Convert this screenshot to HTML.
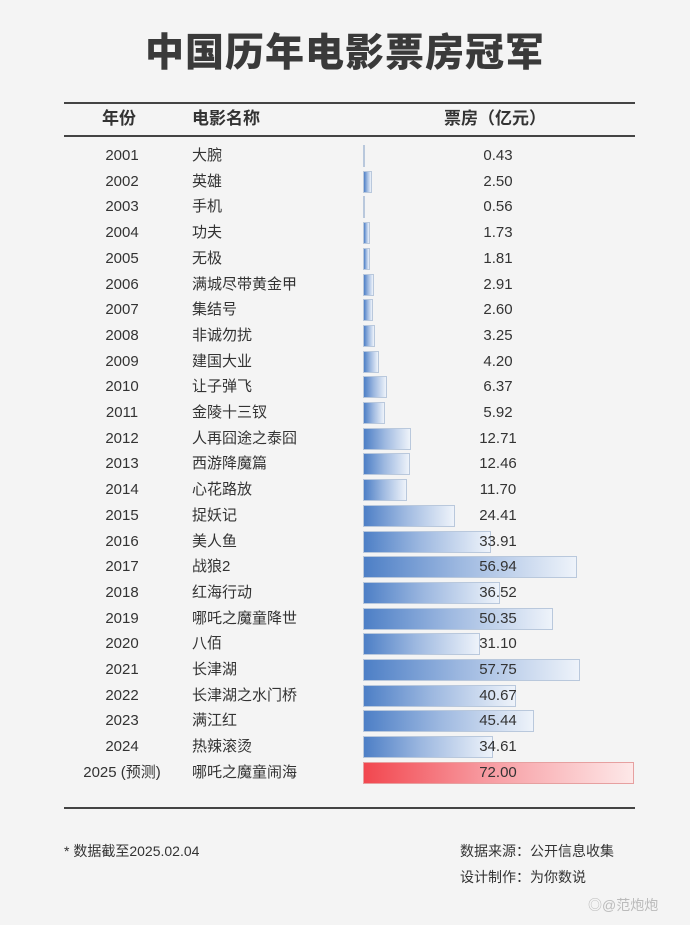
<!DOCTYPE html>
<html><head><meta charset="utf-8"><style>
body{margin:0;width:690px;height:925px;background:#f4f4f4;position:relative;overflow:hidden;font-family:"Liberation Sans","Noto Sans CJK SC",sans-serif;color:#333}
.a{position:absolute;white-space:nowrap;line-height:18px;height:18px}
.t{left:0;width:690px;text-align:center;top:34px;font-size:39px;line-height:40px;height:40px;font-weight:900;color:#3a3a3a;letter-spacing:1px}
.line{position:absolute;left:64px;width:571px;height:1.5px;background:#444}
.yr{left:72px;width:100px;text-align:center;font-size:15px}
.nm{left:192px;font-size:15px}
.val{left:440px;width:116px;text-align:center;font-size:15px}
.bar{position:absolute;left:363px;height:22px;box-sizing:border-box;border:1px solid #b9c8dc;background:linear-gradient(to right,#4d7fc6,#9db8e0 45%,#eef3fa)}
.red{border-color:#e6a0a0;background:linear-gradient(to right,#f2474f,#f79aa0 45%,#fde8e8)}
.h{font-size:17px;font-weight:bold;top:110px}
</style></head><body>
<div class="a t">中国历年电影票房冠军</div>
<div class="line" style="top:102px"></div>
<div class="a h" style="left:102px">年份</div>
<div class="a h" style="left:192px">电影名称</div>
<div class="a h" style="left:444px">票房（亿元）</div>
<div class="line" style="top:135px"></div>
<div class="line" style="top:807px"></div>
<div id="rows"></div>
<div class="a" style="left:64px;top:842px;font-size:14px">* 数据截至2025.02.04</div>
<div class="a" style="left:460px;top:842px;font-size:14px">数据来源：公开信息收集</div>
<div class="a" style="left:460px;top:868px;font-size:14px">设计制作：为你数说</div>
<div class="a" style="left:588px;top:896px;font-size:14px;color:#bbb">◎@范炮炮</div>
<script>
var d=[["2001","大腕",0.43],["2002","英雄",2.50],["2003","手机",0.56],["2004","功夫",1.73],["2005","无极",1.81],["2006","满城尽带黄金甲",2.91],["2007","集结号",2.60],["2008","非诚勿扰",3.25],["2009","建国大业",4.20],["2010","让子弹飞",6.37],["2011","金陵十三钗",5.92],["2012","人再囧途之泰囧",12.71],["2013","西游降魔篇",12.46],["2014","心花路放",11.70],["2015","捉妖记",24.41],["2016","美人鱼",33.91],["2017","战狼2",56.94],["2018","红海行动",36.52],["2019","哪吒之魔童降世",50.35],["2020","八佰",31.10],["2021","长津湖",57.75],["2022","长津湖之水门桥",40.67],["2023","满江红",45.44],["2024","热辣滚烫",34.61],["2025 (预测)","哪吒之魔童闹海",72.00]];
var h="";
d.forEach(function(r,i){var c=156+i*25.7;var w=Math.max(1.5,r[2]*271/72);
h+='<div class="bar'+(i==24?' red':'')+'" style="top:'+(c-11)+'px;width:'+w+'px"></div>';
h+='<div class="a yr" style="top:'+(c-9)+'px">'+r[0]+'</div><div class="a nm" style="top:'+(c-9)+'px">'+r[1]+'</div><div class="a val" style="top:'+(c-9)+'px">'+r[2].toFixed(2)+'</div>';});
document.getElementById("rows").innerHTML=h;
</script>
</body></html>
